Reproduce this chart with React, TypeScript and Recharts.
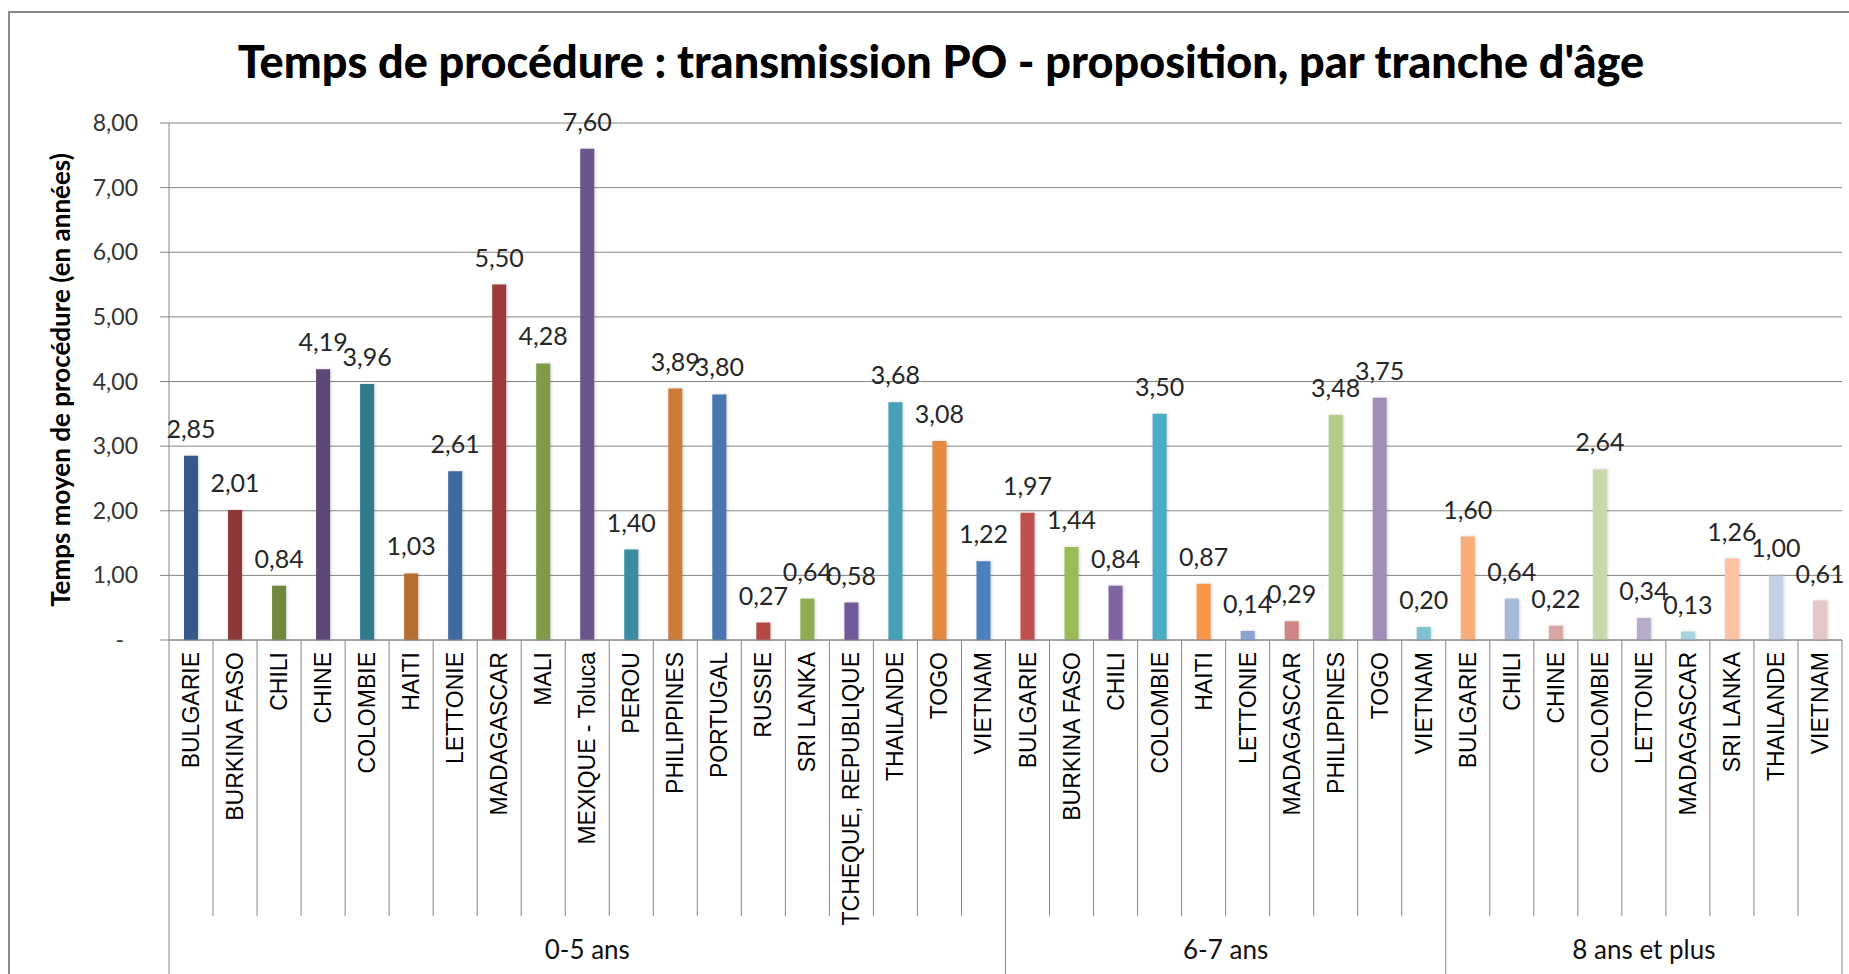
import React from "react";
import {
  BarChart,
  Bar,
  XAxis,
  YAxis,
  CartesianGrid,
  Cell,
  LabelList,
} from "recharts";

// tranches d'âge
const groups = ["0-5 ans", "6-7 ans", "8 ans et plus"];

const countries05 = [
  "BULGARIE", "BURKINA FASO", "CHILI", "CHINE", "COLOMBIE", "HAITI", "LETTONIE",
  "MADAGASCAR", "MALI", "MEXIQUE - Toluca", "PEROU", "PHILIPPINES", "PORTUGAL",
  "RUSSIE", "SRI LANKA", "TCHEQUE, REPUBLIQUE", "THAILANDE", "TOGO", "VIETNAM",
];
const values05 = [
  2.85, 2.01, 0.84, 4.19, 3.96, 1.03, 2.61, 5.5, 4.28, 7.6, 1.4, 3.89, 3.8,
  0.27, 0.64, 0.58, 3.68, 3.08, 1.22,
];

const countries67 = [
  "BULGARIE", "BURKINA FASO", "CHILI", "COLOMBIE", "HAITI", "LETTONIE",
  "MADAGASCAR", "PHILIPPINES", "TOGO", "VIETNAM",
];
const values67 = [1.97, 1.44, 0.84, 3.5, 0.87, 0.14, 0.29, 3.48, 3.75, 0.2];

const countries8 = [
  "BULGARIE", "CHILI", "CHINE", "COLOMBIE", "LETTONIE", "MADAGASCAR",
  "SRI LANKA", "THAILANDE", "VIETNAM",
];
const values8 = [1.6, 0.64, 0.22, 2.64, 0.34, 0.13, 1.26, 1.0, 0.61];

const yTicks = [0, 1, 2, 3, 4, 5, 6, 7, 8];

// couleurs variées par point (palette Office)
const colors = [
  "#34598A", "#8C3836", "#71893F", "#5C4776", "#317B8C", "#B66D31", "#3F6A9E",
  "#9C3D3B", "#7F9B4A", "#6B538C", "#3A8CA3", "#CD7B39", "#4876B0", "#B34845",
  "#8FAD50", "#735A99", "#45A0B8", "#E48A3F", "#4B80C0",
  "#C0504D", "#9BBB59", "#8064A2", "#4BACC6", "#F79646", "#8AA5D4", "#D08583",
  "#B3CB88", "#A08EB8", "#7EC1D3",
  "#F9AC7A", "#A8B9D9", "#D9A6A5", "#C9D8AC", "#B7ABCA", "#A8D4E0", "#FBC2A4",
  "#C4D0E4", "#E6C6C7",
];

const groupCountries = [countries05, countries67, countries8];
const groupValues = [values05, values67, values8];

const data = groups.flatMap((g, gi) =>
  groupCountries[gi].map((c, i) => ({
    id: `${g}|${c}`,
    country: c,
    group: g,
    first: i === 0,
    groupSize: groupCountries[gi].length,
    value: groupValues[gi][i],
  }))
);

const fmt = (v: number) => (v === 0 ? "-" : v.toFixed(2).replace(".", ","));

const GRID = "#868686";
const BAND = (1842 - 169) / data.length;

const CategoryTick = (props: any) => {
  const { x, y, payload, index } = props;
  const half = payload && payload.offset ? payload.offset : BAND / 2;
  const row = data[index];
  if (!row) return null;
  const left = x - half;
  const last = index === data.length - 1;
  return (
    <g>
      <line x1={left} y1={y} x2={left} y2={y + (row.first ? 340 : 276)} stroke={GRID} />
      {last && <line x1={x + half} y1={y} x2={x + half} y2={y + 340} stroke={GRID} />}
      <text
        x={x + 8}
        y={y + 12}
        transform={`rotate(-90, ${x + 8}, ${y + 12})`}
        textAnchor="end"
        fontFamily="'Liberation Sans', Arial, sans-serif"
        fontSize={23}
        fill="#000"
      >
        {row.country}
      </text>
      {row.first && (
        <text
          x={left + row.groupSize * half}
          y={y + 319}
          textAnchor="middle"
          fontFamily="Lato, sans-serif"
          fontSize={26}
          fill="#111"
        >
          {row.group}
        </text>
      )}
    </g>
  );
};

const ValueTick = (props: any) => {
  const { x, y, payload } = props;
  const zero = payload.value === 0;
  return (
    <text
      x={zero ? x - 14 : x}
      y={y}
      dy={8}
      textAnchor="end"
      fontFamily="Lato, sans-serif"
      fontSize={23}
      fill="#333"
    >
      {fmt(payload.value)}
    </text>
  );
};

export default function App() {
  return (
    <div
      style={{
        position: "fixed",
        left: 0,
        top: 0,
        width: 1849,
        height: 974,
        overflow: "hidden",
        background: "#fff",
      }}
    >
      <div
        style={{
          position: "absolute",
          left: 8,
          top: 11,
          width: 1900,
          height: 1000,
          border: "2px solid #8a8a8a",
        }}
      />
      <div
        style={{
          position: "absolute",
          left: 941,
          top: 34,
          transform: "translateX(-50%)",
          whiteSpace: "nowrap",
          fontFamily: "Lato, sans-serif",
          fontWeight: 900,
          fontSize: 45,
          lineHeight: "54px",
          color: "#000",
        }}
      >
        Temps de procédure : transmission PO - proposition, par tranche d'âge
      </div>
      <div
        style={{
          position: "absolute",
          left: 60,
          top: 380,
          transform: "translate(-50%, -50%) rotate(-90deg)",
          whiteSpace: "nowrap",
          fontFamily: "Lato, sans-serif",
          fontWeight: 700,
          fontSize: 26,
          color: "#000",
        }}
      >
        Temps moyen de procédure (en années)
      </div>
      <div style={{ position: "absolute", left: 0, top: 0 }}>
        <BarChart
          width={1849}
          height={974}
          data={data}
          margin={{ top: 123, right: 7, bottom: 4, left: 40 }}
        >
          <CartesianGrid vertical={false} stroke={GRID} />
          <XAxis
            dataKey="id"
            height={330}
            interval={0}
            tickLine={false}
            tickSize={0}
            tickMargin={0}
            axisLine={{ stroke: GRID }}
            tick={<CategoryTick />}
          />
          <YAxis
            width={129}
            domain={[0, 8]}
            ticks={yTicks}
            interval={0}
            tickSize={9}
            tickMargin={22}
            tickLine={{ stroke: GRID }}
            axisLine={{ stroke: GRID }}
            tick={<ValueTick />}
          />
          <Bar
            dataKey="value"
            barSize={14}
            isAnimationActive={false}
            style={{ filter: "drop-shadow(1px 0px 1.5px rgba(0,0,0,0.18))" }}
          >
            {data.map((d, i) => (
              <Cell key={d.id} fill={colors[i]} />
            ))}
            <LabelList
              dataKey="value"
              position="top"
              offset={18}
              formatter={(v: any) => fmt(Number(v))}
              style={{ fontFamily: "Lato, sans-serif", fontSize: 25, fill: "#262626" }}
            />
          </Bar>
        </BarChart>
      </div>
    </div>
  );
}
